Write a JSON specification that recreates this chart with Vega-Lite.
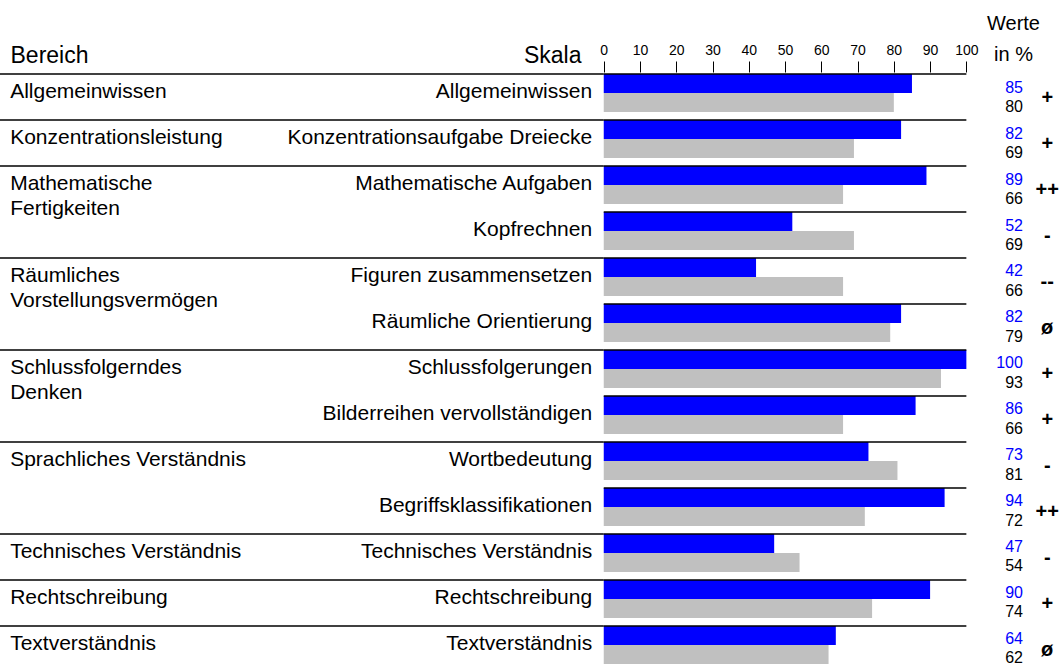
{
  "$schema": "https://vega.github.io/schema/vega-lite/v6.json",
  "width": 1061,
  "height": 590,
  "autosize": {"type": "none"},
  "padding": {"left": 0, "top": 74, "right": 0, "bottom": 0},
  "background": "white",
  "config": {
    "view": {"stroke": null},
    "font": "Liberation Sans",
    "text": {"font": "Liberation Sans"}
  },
  "datasets": {
    "werte": [
      {"Skala": "Allgemeinwissen", "Serie": "Testperson", "Wert": 85},
      {"Skala": "Allgemeinwissen", "Serie": "Referenz", "Wert": 80},
      {"Skala": "Konzentrationsaufgabe Dreiecke", "Serie": "Testperson", "Wert": 82},
      {"Skala": "Konzentrationsaufgabe Dreiecke", "Serie": "Referenz", "Wert": 69},
      {"Skala": "Mathematische Aufgaben", "Serie": "Testperson", "Wert": 89},
      {"Skala": "Mathematische Aufgaben", "Serie": "Referenz", "Wert": 66},
      {"Skala": "Kopfrechnen", "Serie": "Testperson", "Wert": 52},
      {"Skala": "Kopfrechnen", "Serie": "Referenz", "Wert": 69},
      {"Skala": "Figuren zusammensetzen", "Serie": "Testperson", "Wert": 42},
      {"Skala": "Figuren zusammensetzen", "Serie": "Referenz", "Wert": 66},
      {"Skala": "Räumliche Orientierung", "Serie": "Testperson", "Wert": 82},
      {"Skala": "Räumliche Orientierung", "Serie": "Referenz", "Wert": 79},
      {"Skala": "Schlussfolgerungen", "Serie": "Testperson", "Wert": 100},
      {"Skala": "Schlussfolgerungen", "Serie": "Referenz", "Wert": 93},
      {"Skala": "Bilderreihen vervollständigen", "Serie": "Testperson", "Wert": 86},
      {"Skala": "Bilderreihen vervollständigen", "Serie": "Referenz", "Wert": 66},
      {"Skala": "Wortbedeutung", "Serie": "Testperson", "Wert": 73},
      {"Skala": "Wortbedeutung", "Serie": "Referenz", "Wert": 81},
      {"Skala": "Begriffsklassifikationen", "Serie": "Testperson", "Wert": 94},
      {"Skala": "Begriffsklassifikationen", "Serie": "Referenz", "Wert": 72},
      {"Skala": "Technisches Verständnis", "Serie": "Testperson", "Wert": 47},
      {"Skala": "Technisches Verständnis", "Serie": "Referenz", "Wert": 54},
      {"Skala": "Rechtschreibung", "Serie": "Testperson", "Wert": 90},
      {"Skala": "Rechtschreibung", "Serie": "Referenz", "Wert": 74},
      {"Skala": "Textverständnis", "Serie": "Testperson", "Wert": 64},
      {"Skala": "Textverständnis", "Serie": "Referenz", "Wert": 62}
    ],
    "skalen": [
      {"Skala": "Allgemeinwissen", "Bewertung": "+"},
      {"Skala": "Konzentrationsaufgabe Dreiecke", "Bewertung": "+"},
      {"Skala": "Mathematische Aufgaben", "Bewertung": "++"},
      {"Skala": "Kopfrechnen", "Bewertung": "-"},
      {"Skala": "Figuren zusammensetzen", "Bewertung": "--"},
      {"Skala": "Räumliche Orientierung", "Bewertung": "ø"},
      {"Skala": "Schlussfolgerungen", "Bewertung": "+"},
      {"Skala": "Bilderreihen vervollständigen", "Bewertung": "+"},
      {"Skala": "Wortbedeutung", "Bewertung": "-"},
      {"Skala": "Begriffsklassifikationen", "Bewertung": "++"},
      {"Skala": "Technisches Verständnis", "Bewertung": "-"},
      {"Skala": "Rechtschreibung", "Bewertung": "+"},
      {"Skala": "Textverständnis", "Bewertung": "ø"}
    ],
    "bereiche": [
      {"Bereich": "Allgemeinwissen", "Skala": "Allgemeinwissen"},
      {"Bereich": "Konzentrationsleistung", "Skala": "Konzentrationsaufgabe Dreiecke"},
      {"Bereich": "Mathematische\nFertigkeiten", "Skala": "Mathematische Aufgaben"},
      {"Bereich": "Räumliches\nVorstellungsvermögen", "Skala": "Figuren zusammensetzen"},
      {"Bereich": "Schlussfolgerndes\nDenken", "Skala": "Schlussfolgerungen"},
      {"Bereich": "Sprachliches Verständnis", "Skala": "Wortbedeutung"},
      {"Bereich": "Technisches Verständnis", "Skala": "Technisches Verständnis"},
      {"Bereich": "Rechtschreibung", "Skala": "Rechtschreibung"},
      {"Bereich": "Textverständnis", "Skala": "Textverständnis"}
    ]
  },
  "resolve": {"axis": {"x": "independent", "y": "independent"}},
  "layer": [
    {
      "data": {"name": "werte"},
      "mark": {"type": "bar", "cornerRadius": 0},
      "encoding": {
        "y": {
          "field": "Skala", "type": "nominal",
          "scale": {
            "domain": ["Allgemeinwissen", "Konzentrationsaufgabe Dreiecke", "Mathematische Aufgaben", "Kopfrechnen", "Figuren zusammensetzen", "Räumliche Orientierung", "Schlussfolgerungen", "Bilderreihen vervollständigen", "Wortbedeutung", "Begriffsklassifikationen", "Technisches Verständnis", "Rechtschreibung", "Textverständnis"],
            "paddingInner": 0.1739, "paddingOuter": 0
          },
          "axis": {
            "orient": "left", "labels": false, "ticks": false, "domain": false, "grid": false,
            "title": "Skala", "titleAngle": 0, "titleX": 581, "titleY": -12,
            "titleAlign": "right", "titleBaseline": "alphabetic", "titleFontSize": 23,
            "titleFontWeight": "normal", "titleColor": "black", "titleFont": "Liberation Sans"
          }
        },
        "yOffset": {
          "field": "Serie", "type": "nominal",
          "scale": {"domain": ["Testperson", "Referenz"], "paddingInner": 0, "paddingOuter": 0}
        },
        "x": {
          "field": "Wert", "type": "quantitative",
          "scale": {"domain": [-166.5, 126.1], "nice": false, "zero": false},
          "axis": {
            "orient": "top", "values": [0, 10, 20, 30, 40, 50, 60, 70, 80, 90, 100], "format": "d",
            "offset": 2, "domain": false, "grid": false, "tickSize": 11, "tickColor": "black", "tickWidth": 1,
            "labelFontSize": 14, "labelColor": "black", "labelPadding": 4, "labelFont": "Liberation Sans",
            "labelFlush": false, "labelOverlap": false, "labelBound": false,
            "title": "Bereich", "titleX": 10, "titleY": -10, "titleAlign": "left", "titleBaseline": "alphabetic",
            "titleFontSize": 23, "titleFontWeight": "normal", "titleColor": "black", "titleFont": "Liberation Sans"
          }
        },
        "x2": {"datum": 0},
        "color": {
          "field": "Serie", "type": "nominal",
          "scale": {"domain": ["Testperson", "Referenz"], "range": ["#0000ff", "#c0c0c0"]},
          "legend": null
        }
      }
    },
    {
      "data": {"name": "skalen"},
      "mark": {"type": "rule", "color": "black", "strokeWidth": 1.5},
      "encoding": {
        "y": {"field": "Skala", "type": "nominal", "bandPosition": 0, "axis": null},
        "x": {"datum": 0, "type": "quantitative", "axis": null},
        "x2": {"datum": 100}
      }
    },
    {
      "data": {"name": "bereiche"},
      "mark": {"type": "rule", "color": "black", "strokeWidth": 1.5},
      "encoding": {
        "y": {"field": "Skala", "type": "nominal", "bandPosition": 0, "axis": null},
        "x": {"datum": -166.5, "type": "quantitative", "axis": null},
        "x2": {"datum": 0}
      }
    },
    {
      "data": {"name": "skalen"},
      "mark": {"type": "text", "align": "right", "baseline": "alphabetic", "dy": 5, "fontSize": 21, "color": "black"},
      "encoding": {
        "y": {"field": "Skala", "type": "nominal", "axis": null},
        "x": {"datum": -3.2, "type": "quantitative", "axis": null},
        "text": {"field": "Skala"}
      }
    },
    {
      "data": {"name": "bereiche"},
      "mark": {"type": "text", "align": "left", "baseline": "alphabetic", "dy": 5, "fontSize": 21, "color": "black", "lineBreak": "\n", "lineHeight": 25},
      "encoding": {
        "y": {"field": "Skala", "type": "nominal", "axis": null},
        "x": {"datum": -163.7, "type": "quantitative", "axis": null},
        "text": {"field": "Bereich"}
      }
    },
    {
      "data": {"name": "werte"},
      "mark": {"type": "text", "align": "right", "baseline": "alphabetic", "dy": 9, "fontSize": 16},
      "encoding": {
        "y": {"field": "Skala", "type": "nominal", "axis": null},
        "yOffset": {"field": "Serie", "type": "nominal"},
        "x": {"datum": 115.6, "type": "quantitative", "axis": null},
        "text": {"field": "Wert", "type": "quantitative"},
        "color": {"condition": {"test": "datum.Serie === 'Testperson'", "value": "#0000ff"}, "value": "black"}
      }
    },
    {
      "data": {"name": "skalen"},
      "mark": {"type": "text", "align": "center", "baseline": "alphabetic", "dy": 11, "fontSize": 20, "fontWeight": "bold", "color": "black"},
      "encoding": {
        "y": {
          "field": "Skala", "type": "nominal",
          "axis": {
            "orient": "right", "labels": false, "ticks": false, "domain": false, "grid": false,
            "title": ["Werte", "in %"], "titleAngle": 0, "titleX": -48, "titleY": -45,
            "titleAlign": "center", "titleBaseline": "alphabetic", "titleFontSize": 20, "titleLineHeight": 31,
            "titleFontWeight": "normal", "titleColor": "black", "titleFont": "Liberation Sans"
          }
        },
        "x": {"datum": 122.3, "type": "quantitative", "axis": null},
        "text": {"field": "Bewertung"}
      }
    }
  ]
}
